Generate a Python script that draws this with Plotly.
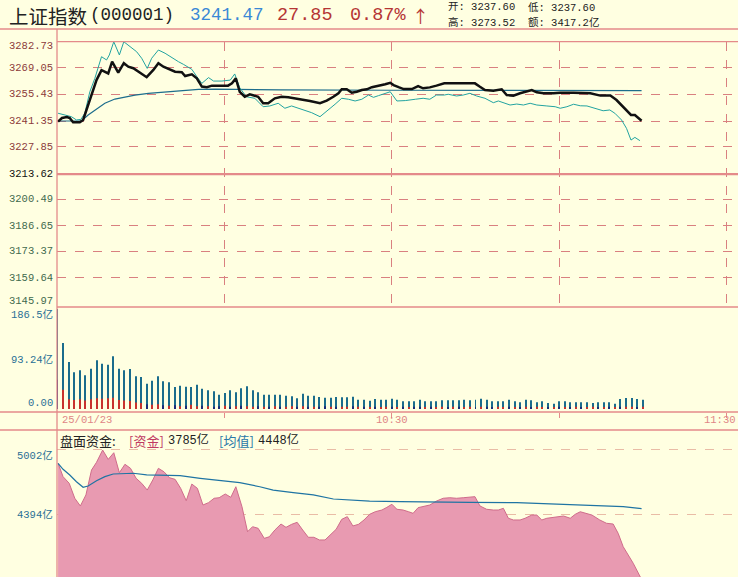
import plotly.graph_objects as go

W, H = 738, 577

# ---------------- data ----------------
# minutes after 09:30 / index level (上证指数 分时)
price_t = [0.1, 0.8, 1.7, 2.2, 2.8, 4.0, 4.6, 5.5, 6.1, 7.0, 7.9, 8.5, 9.1, 9.8, 10.9, 11.9, 12.7, 13.6,
           14.5, 16.0, 17.2, 18.1, 19.0, 20.2, 21.1, 22.3, 22.9, 24.1, 25.0, 25.9, 26.8, 27.7, 30.6,
           31.3, 32.0, 32.7, 33.6, 34.5, 36.0, 36.9, 37.8, 39.0, 40.2, 41.4, 42.6, 44.1, 45.3, 47.1,
           48.3, 49.5, 50.4, 51.0, 51.9, 52.8, 53.7, 54.6, 55.5, 56.4, 57.6, 58.8, 59.7, 60.3, 61.2,
           62.1, 63.6, 64.7, 65.6, 66.8, 68.0, 69.4, 70.4, 74.9, 75.8, 76.7, 78.2, 79.7, 80.6, 81.8,
           83.0, 84.2, 85.1, 86.0, 87.2, 89.0, 90.2, 92.6, 93.8, 95.6, 97.4, 99.2, 100.3, 101.2,
           102.1, 102.9, 103.6, 104.8]
price_v = [3241.0, 3242.9, 3243.4, 3242.9, 3240.7, 3240.7, 3241.9, 3249.7, 3255.8, 3262.7, 3267.9,
           3267.1, 3266.2, 3272.3, 3266.6, 3271.5, 3269.7, 3268.9, 3267.1, 3264.2, 3268.0, 3271.5,
           3269.7, 3268.3, 3267.1, 3266.8, 3264.8, 3265.7, 3263.6, 3259.3, 3259.0, 3259.8, 3259.8,
           3261.0, 3263.6, 3256.6, 3254.0, 3255.3, 3254.0, 3250.6, 3250.6, 3253.2, 3254.0, 3253.7,
           3253.2, 3252.3, 3251.8, 3250.6, 3252.0, 3254.0, 3255.8, 3257.9, 3257.9, 3256.1, 3256.6,
           3257.5, 3257.9, 3259.0, 3259.6, 3260.5, 3261.3, 3260.1, 3259.0, 3258.0, 3258.0, 3259.6,
           3258.4, 3258.9, 3259.8, 3261.0, 3261.0, 3261.0, 3259.2, 3257.5, 3257.2, 3257.9, 3254.9,
           3254.6, 3255.8, 3257.0, 3257.5, 3256.3, 3255.8, 3255.8, 3256.1, 3256.1, 3256.1, 3255.8,
           3254.6, 3254.6, 3252.3, 3249.7, 3247.1, 3244.5, 3244.5, 3241.47]

lead_t = [0.1, 1.3, 2.5, 3.4, 4.2, 4.9, 5.8, 6.7, 7.9, 8.8, 9.3, 10.1, 11.1, 11.9, 12.7, 14.2, 15.1,
          16.1, 16.9, 18.1, 19.3, 20.2, 21.7, 22.6, 23.2, 24.1, 25.0, 25.9, 27.1, 28.0, 29.5, 31.0,
          31.8, 32.7, 33.9, 35.4, 36.9, 38.1, 39.6, 40.8, 42.0, 43.8, 45.6, 47.1, 48.6, 49.8, 51.0,
          52.2, 53.4, 54.6, 55.8, 56.7, 57.6, 58.5, 59.7, 60.9, 62.4, 64.2, 65.6, 66.8, 68.0, 69.4,
          70.1, 71.6, 72.8, 74.0, 75.2, 76.7, 78.2, 79.1, 80.0, 81.2, 82.4, 83.6, 84.8, 86.0, 87.8,
          89.3, 90.2, 91.4, 92.6, 93.8, 95.0, 96.8, 97.9, 99.1, 100.0, 101.2, 102.1, 102.9, 103.6,
          104.5]
lead_v = [3245.4, 3244.5, 3243.6, 3241.9, 3242.2, 3245.4, 3256.6, 3263.6, 3274.9, 3273.2, 3275.8,
          3282.7, 3275.8, 3282.7, 3281.0, 3277.5, 3274.1, 3268.8, 3274.1, 3278.4, 3276.7, 3274.9,
          3272.3, 3270.9, 3269.7, 3268.3, 3264.5, 3261.0, 3264.0, 3262.2, 3262.2, 3262.7, 3265.9,
          3258.7, 3254.0, 3253.2, 3248.8, 3249.2, 3250.6, 3248.0, 3249.2, 3247.5, 3245.7, 3243.6,
          3247.5, 3250.1, 3253.2, 3252.7, 3251.8, 3252.7, 3254.9, 3253.7, 3254.6, 3255.4, 3256.6,
          3251.8, 3252.0, 3252.7, 3253.2, 3252.7, 3254.9, 3254.9, 3255.3, 3254.4, 3254.9, 3255.8,
          3254.4, 3253.2, 3250.9, 3251.8, 3250.9, 3249.7, 3250.2, 3249.7, 3250.6, 3249.7, 3249.2,
          3248.8, 3248.0, 3248.8, 3250.1, 3249.3, 3249.2, 3247.5, 3246.7, 3247.1, 3245.4, 3241.9,
          3237.5, 3231.4, 3232.8, 3231.1]

avg_t = [0.1, 3.1, 4.3, 5.5, 7.0, 8.5, 10.3, 12.1, 13.9, 16.3, 19.3, 22.3, 25.3, 28.3, 40.0, 60.0,
         80.0, 104.8]
avg_v = [3241.35, 3241.5, 3241.35, 3244.5, 3247.6, 3250.6, 3252.8, 3254.0, 3254.9, 3255.8, 3256.6,
         3257.2, 3257.9, 3258.0, 3257.6, 3257.4, 3257.3, 3257.2]

# volume per minute (亿), whole bar and its lower segment
vol_total = [186.5, 123.0, 87.7, 68.4, 72.1, 62.8, 75.2, 90.8, 84.5, 82.7,
             98.2, 75.2, 72.1, 74.6, 60.9, 59.7, 47.2, 52.8, 60.9, 51.6,
             49.7, 41.0, 43.5, 41.7, 41.0, 45.4, 37.9, 34.8, 32.9, 26.7,
             29.8, 34.8, 31.1, 38.5, 42.3, 34.8, 31.1, 26.7, 26.7, 26.7,
             26.7, 24.9, 23.6, 19.9, 28.6, 24.9, 24.9, 22.4, 21.1, 21.1,
             22.4, 21.8, 21.8, 23.0, 17.4, 17.4, 15.5, 18.7, 17.4, 17.4,
             19.3, 17.4, 14.3, 14.3, 14.3, 17.4, 14.3, 14.3, 14.3, 16.2,
             16.2, 16.2, 16.2, 17.4, 16.2, 17.4, 19.3, 17.4, 14.3, 14.3,
             14.3, 17.4, 14.3, 12.4, 17.4, 16.2, 12.4, 14.3, 11.2, 9.9,
             14.3, 14.3, 12.4, 12.4, 12.4, 12.4, 11.2, 12.4, 12.4, 12.4,
             9.9, 18.7, 20.5, 20.5, 18.7, 17.4]
vol_lower = [54.7, 36.0, 18.0, 17.0, 18.0, 16.0, 18.0, 20.0, 19.0, 20.0,
             21.0, 17.0, 16.0, 15.0, 12.0, 11.0, 9.0, 8.0, 9.0, 7.0,
             6.0, 7.0, 5.0, 6.0, 8.0, 5.0, 6.0, 5.0, 4.0, 5.0,
             6.0, 4.0, 5.0, 6.0, 5.0, 4.0, 5.0, 4.0, 4.0, 5.0,
             4.0, 4.0, 5.0, 4.0, 5.0, 4.0, 4.0, 4.0, 5.0, 4.0,
             4.0, 4.0, 4.0, 5.0, 4.0, 4.0, 3.0, 4.0, 3.0, 4.0,
             4.0, 3.0, 4.0, 3.0, 4.0, 4.0, 3.0, 4.0, 3.0, 4.0,
             3.0, 4.0, 4.0, 3.0, 4.0, 3.0, 4.0, 4.0, 3.0, 4.0,
             3.0, 4.0, 3.0, 3.0, 4.0, 3.0, 4.0, 3.0, 3.0, 3.0,
             4.0, 3.0, 3.0, 4.0, 3.0, 3.0, 4.0, 3.0, 3.0, 4.0,
             3.0, 4.0, 4.0, 4.0, 3.0, 4.0]
vol_lower_side = list("nrrrrrrrrr" "rrrrrrnrrn" "rnrnrrnrnn" "rnrnrrnrnr" "nrrnrnrnnr"
                      "nrrnrnrnrr" "nrnrnnrnrr" "nrnrrnrnnr" "rnrnrnrrnr" "nrnrnrrnrn" "rnrrnr")
vol_minute = list(range(len(vol_total)))

# 盘面资金 (亿)
fund_t = [0.1, 1.0, 2.1, 3.1, 4.1, 5.1, 6.1, 7.0, 8.1, 9.1, 10.1, 11.1, 12.1, 13.1, 14.1, 15.1, 16.1,
          17.1, 18.1, 19.1, 20.1, 21.1, 22.1, 23.1, 24.1, 25.1, 26.1, 27.1, 28.1, 29.0, 30.1, 31.1,
          32.0, 33.1, 34.1, 35.0, 36.0, 37.1, 38.0, 39.0, 40.1, 41.0, 42.0, 43.0, 44.0, 45.0, 46.0,
          47.0, 48.0, 49.0, 50.0, 51.0, 52.0, 53.0, 54.0, 55.0, 56.0, 57.0, 58.2, 59.1, 60.0, 60.9,
          62.0, 63.0, 63.8, 64.7, 65.9, 66.8, 68.0, 69.2, 70.4, 71.6, 72.8, 74.0, 74.9, 75.8, 77.0,
          78.2, 79.1, 80.0, 80.9, 81.8, 83.0, 83.9, 85.1, 86.0, 86.9, 87.8, 89.6, 90.8, 92.0, 92.9,
          93.8, 95.0, 95.9, 97.3, 98.5, 99.7, 100.6, 101.5, 103.3, 104.8]
fund_v = [4871, 4746, 4684, 4544, 4472, 4575, 4808, 4880, 4995, 4908, 4970, 4783, 4862, 4824, 4731,
          4684, 4621, 4715, 4824, 4792, 4736, 4721, 4637, 4521, 4677, 4637, 4481, 4503, 4544, 4549,
          4584, 4553, 4652, 4465, 4231, 4278, 4263, 4169, 4184, 4247, 4303, 4272, 4300, 4319, 4247,
          4179, 4179, 4154, 4154, 4200, 4254, 4347, 4372, 4285, 4300, 4341, 4394, 4418, 4434, 4459,
          4488, 4441, 4434, 4418, 4403, 4456, 4472, 4481, 4518, 4544, 4549, 4544, 4549, 4553, 4559,
          4472, 4441, 4434, 4434, 4450, 4357, 4341, 4341, 4357, 4387, 4387, 4341, 4357, 4366, 4378,
          4357, 4394, 4418, 4397, 4387, 4341, 4310, 4303, 4216, 4091, 3936, 3785]
fund_avg_t = [0.1, 1.0, 2.2, 3.4, 4.6, 5.5, 7.0, 8.5, 10.0, 11.8, 13.6, 16.0, 18.4, 22.0, 25.6, 29.2,
              32.7, 36.3, 38.7, 42.3, 45.9, 49.5, 52.5, 56.0, 61.5, 68.0, 74.0, 82.4, 88.4, 96.8,
              101.5, 104.8]
fund_avg_v = [4871, 4815, 4762, 4699, 4647, 4659, 4708, 4746, 4771, 4778, 4778, 4762, 4762, 4755,
              4731, 4708, 4690, 4652, 4621, 4596, 4575, 4537, 4528, 4518, 4512, 4506, 4506, 4503,
              4490, 4474, 4465, 4448]

price_ticks = [3282.73, 3269.05, 3255.43, 3241.35, 3227.85, 3213.62, 3200.49, 3186.65, 3173.37,
               3159.64, 3145.97]
price_prev_close = 3213.62
vol_ticks = [186.5, 93.24, 0.0]
vol_tick_text = ["186.5亿", "93.24亿", "0.00"]
fund_ticks = [5002, 4394, 3785]
fund_tick_text = ["5002亿", "4394亿", "3785亿"]
time_ticks = [30, 60, 90, 120]
time_labels = [(0, "25/01/23"), (60, "10:30"), (120, "11:30")]

# ---------------- styling ----------------
BG = "#ffffe1"
BORDER = "#e48a8a"
GRID = "#d98080"
MONO = "Liberation Mono, Noto Sans CJK SC"
CJK = "Noto Sans CJK SC"


def py(px):
    return 1 - px / H


def pxx(px):
    return px / W


X0 = pxx(57)
XR = [-0.09, 122.1]

fig = go.Figure()

# price panel
fig.add_trace(go.Scatter(x=avg_t, y=avg_v, mode="lines", line=dict(color="#1d6d8c", width=1.2),
                         xaxis="x", yaxis="y", hoverinfo="skip"))
fig.add_trace(go.Scatter(x=lead_t, y=lead_v, mode="lines", line=dict(color="#22a3a0", width=1),
                         xaxis="x", yaxis="y", hoverinfo="skip"))
fig.add_trace(go.Scatter(x=price_t, y=price_v, mode="lines", line=dict(color="#111111", width=2.5),
                         xaxis="x", yaxis="y", hoverinfo="skip"))

# volume panel
fig.add_trace(go.Bar(x=vol_minute, y=vol_total, width=0.18, marker=dict(color="#1b6c8c", line_width=0),
                     xaxis="x2", yaxis="y2", hoverinfo="skip"))
side_col = {"r": "#c8322d", "n": "#1c2a78"}
fig.add_trace(go.Bar(x=vol_minute, y=vol_lower, width=0.18,
                     marker=dict(color=[side_col[s] for s in vol_lower_side], line_width=0),
                     xaxis="x2", yaxis="y2", hoverinfo="skip"))

# fund panel
fig.add_trace(go.Scatter(x=fund_t, y=fund_v, mode="lines", fill="tozeroy", fillcolor="#e89ab1",
                         line=dict(color="#cf6c8b", width=1), xaxis="x3", yaxis="y3", hoverinfo="skip"))
fig.add_trace(go.Scatter(x=fund_avg_t, y=fund_avg_v, mode="lines", line=dict(color="#1f74a3", width=1.2),
                         xaxis="x3", yaxis="y3", hoverinfo="skip"))

grid_price = [v for v in price_ticks if v not in (price_prev_close, price_ticks[0], price_ticks[-1])]

fig.update_layout(
    width=W, height=H, margin=dict(l=0, r=0, t=0, b=0),
    paper_bgcolor=BG, plot_bgcolor=BG, showlegend=False, barmode="overlay",
    xaxis=dict(domain=[X0, 1], range=XR, tickvals=time_ticks, showgrid=True, gridcolor=GRID,
               griddash="dash", gridwidth=1, showticklabels=False, zeroline=False, showline=False,
               anchor="y"),
    xaxis2=dict(domain=[X0, 1], range=XR, tickvals=time_ticks, showgrid=False,
                showticklabels=False, zeroline=False, showline=False,
                ticks="outside", ticklen=5, tickcolor=BORDER, anchor="y2", matches="x"),
    xaxis3=dict(domain=[X0, 1], range=XR, showgrid=False, showticklabels=False, zeroline=False,
                showline=False, anchor="y3", matches="x"),
    yaxis=dict(domain=[py(307), py(41.7)], range=[3144.3, 3282.73], tickvals=grid_price,
               showgrid=True, gridcolor=GRID, griddash="dash", showticklabels=False,
               zeroline=False, showline=False, anchor="x"),
    yaxis2=dict(domain=[py(412), py(307)], range=[-5.6, 190.2], showgrid=False,
                showticklabels=False, zeroline=False, showline=False, anchor="x2"),
    yaxis3=dict(domain=[0, py(430)], range=[3807.5, 5182.6], tickvals=fund_ticks[:2], showgrid=True,
                gridcolor="#e9bca6", griddash="dash", showticklabels=False, zeroline=False,
                showline=False, anchor="x3"),
)

shapes = []
# previous close line
shapes.append(dict(type="line", xref="paper", yref="y", x0=X0, x1=1, y0=price_prev_close,
                   y1=price_prev_close, line=dict(color=BORDER, width=2.2)))
# panel borders
for ypx, xs in [(29, 0), (41.7, X0), (307, X0), (412, 0), (430, 0)]:
    shapes.append(dict(type="line", xref="paper", yref="paper", x0=xs, x1=1, y0=py(ypx), y1=py(ypx),
                       line=dict(color=BORDER, width=1.3)))
shapes.append(dict(type="line", xref="paper", yref="paper", x0=X0, x1=X0, y0=0, y1=py(29),
                   line=dict(color=BORDER, width=1.3)))
fig.update_layout(shapes=shapes)

ann = []


def label(text, y, yref, color, shift=0, size=10.5):
    ann.append(dict(text=text, x=pxx(55), xref="paper", xanchor="right", y=y, yref=yref,
                    yanchor="middle", yshift=shift, showarrow=False,
                    font=dict(family=MONO, size=size, color=color)))


for i, v in enumerate(price_ticks):
    if v > price_prev_close:
        col = "#8c3b3b"
    elif v == price_prev_close:
        col = "#111111"
    else:
        col = "#3f6a4e"
    sh = -4.5 if i == 0 else (3 if i == len(price_ticks) - 1 else 0)
    label(f"{v:.2f}", v, "y", col, sh)

for v, t in zip(vol_ticks, vol_tick_text):
    sh = -6 if v == vol_ticks[0] else (6 if v == 0 else 0)
    label(t, v, "y2", "#2a6f96", sh)

for v, t in zip(fund_ticks, fund_tick_text):
    sh = -6 if v == fund_ticks[0] else (6 if v == fund_ticks[-1] else 0)
    label(t, v, "y3", "#2a6f96", sh)

for tv, tl in time_labels:
    if tv == 0:
        anchor, xs = "left", 2
    elif tv == time_ticks[-1]:
        anchor, xs = "right", 12
    else:
        anchor, xs = "center", 0
    ann.append(dict(text=tl, x=tv, xref="x", xanchor=anchor, xshift=xs, y=py(420), yref="paper",
                    yanchor="middle", showarrow=False,
                    font=dict(family=MONO, size=10.5, color="#e08585")))


def head(text, xpx, ypx, color, size, family):
    ann.append(dict(text=text, x=pxx(xpx), xref="paper", xanchor="left", y=py(ypx), yref="paper",
                    yanchor="middle", showarrow=False, font=dict(family=family, size=size, color=color)))


head("上证指数", 7, 15, "#222222", 19.5, CJK)
head("(000001)", 88, 15, "#222222", 17.5, MONO)
head("3241.47", 188, 15, "#3a88d6", 17.5, MONO)
head("27.85", 275, 15, "#b53535", 18.5, MONO)
head("0.87%", 348, 15, "#b53535", 18.5, MONO)
head("↑", 410, 15, "#b53535", 17, CJK)
head("开: 3237.60", 446, 7, "#222222", 10.5, MONO)
head("低: 3237.60", 526, 7, "#222222", 10.5, MONO)
head("高: 3273.52", 446, 22, "#222222", 10.5, MONO)
head("额: 3417.2亿", 526, 22, "#222222", 10.5, MONO)

head("盘面资金:", 58, 440, "#222222", 13, CJK)
head("[资金]", 127, 440, "#c03a62", 13, CJK)
head("3785亿", 166, 440, "#222222", 12, MONO)
head("[均值]", 217, 440, "#2a78a8", 13, CJK)
head("4448亿", 256, 440, "#222222", 12, MONO)

fig.update_layout(annotations=ann)

fig.write_html("out.html")
